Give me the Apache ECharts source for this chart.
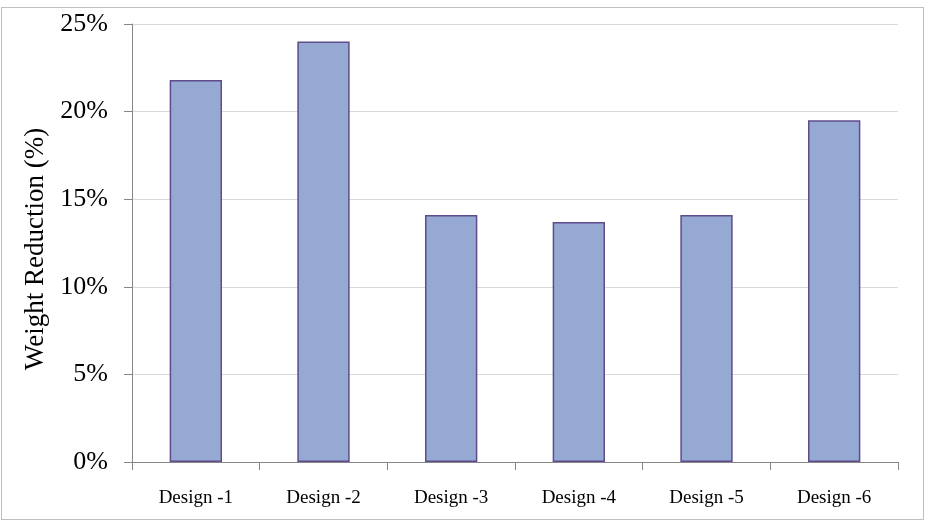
<!DOCTYPE html>
<html>
<head>
<meta charset="utf-8">
<script src="https://cdn.jsdelivr.net/npm/echarts@6/dist/echarts.min.js"></script>
<style>
html,body{margin:0;padding:0;background:#fff;}
#frame{position:absolute;left:1px;top:7px;width:923px;height:513px;border:1px solid #BFBFBF;box-sizing:border-box;}
#c{position:absolute;left:0;top:0;width:929px;height:529px;}
</style>
</head>
<body>
<div id="frame"></div>
<div id="c"></div>
<script>
const categories = ['Design -1','Design -2','Design -3','Design -4','Design -5','Design -6'];
const weightReduction = [21.8, 24.0, 14.1, 13.7, 14.1, 19.5];
const yTicks = [0, 5, 10, 15, 20, 25];

const chart = echarts.init(document.getElementById('c'), null, {renderer:'canvas'});
const font = '"Liberation Serif", "Times New Roman", serif';
chart.setOption({
  animation:false,
  grid:{left:132, right:31, top:24, bottom:67, containLabel:false},
  xAxis:{
    type:'category',
    data:categories,
    axisLine:{lineStyle:{color:'#868686', width:1}},
    axisTick:{show:true, length:8, lineStyle:{color:'#868686'}},
    axisLabel:{color:'#000', fontFamily:font, fontSize:19, margin:27}
  },
  yAxis:{
    type:'value',
    min:yTicks[0], max:yTicks[yTicks.length-1], interval:5,
    name:'Weight Reduction (%)',
    nameLocation:'middle',
    nameGap:80,
    nameTextStyle:{color:'#000', fontFamily:font, fontSize:27, padding:[0,12,0,0]},
    axisLine:{show:true, lineStyle:{color:'#868686', width:1}},
    axisTick:{show:true, length:8, lineStyle:{color:'#868686'}},
    axisLabel:{color:'#000', fontFamily:font, fontSize:26, margin:24, formatter: v => v + '%'},
    splitLine:{show:true, lineStyle:{color:'#D9D9D9', width:1}}
  },
  series:[{
    type:'bar',
    data:weightReduction,
    barWidth:'41%',
    itemStyle:{color:'#95A9D2', borderColor:'#5E4C8C', borderWidth:1.5}
  }]
});
</script>
</body>
</html>
